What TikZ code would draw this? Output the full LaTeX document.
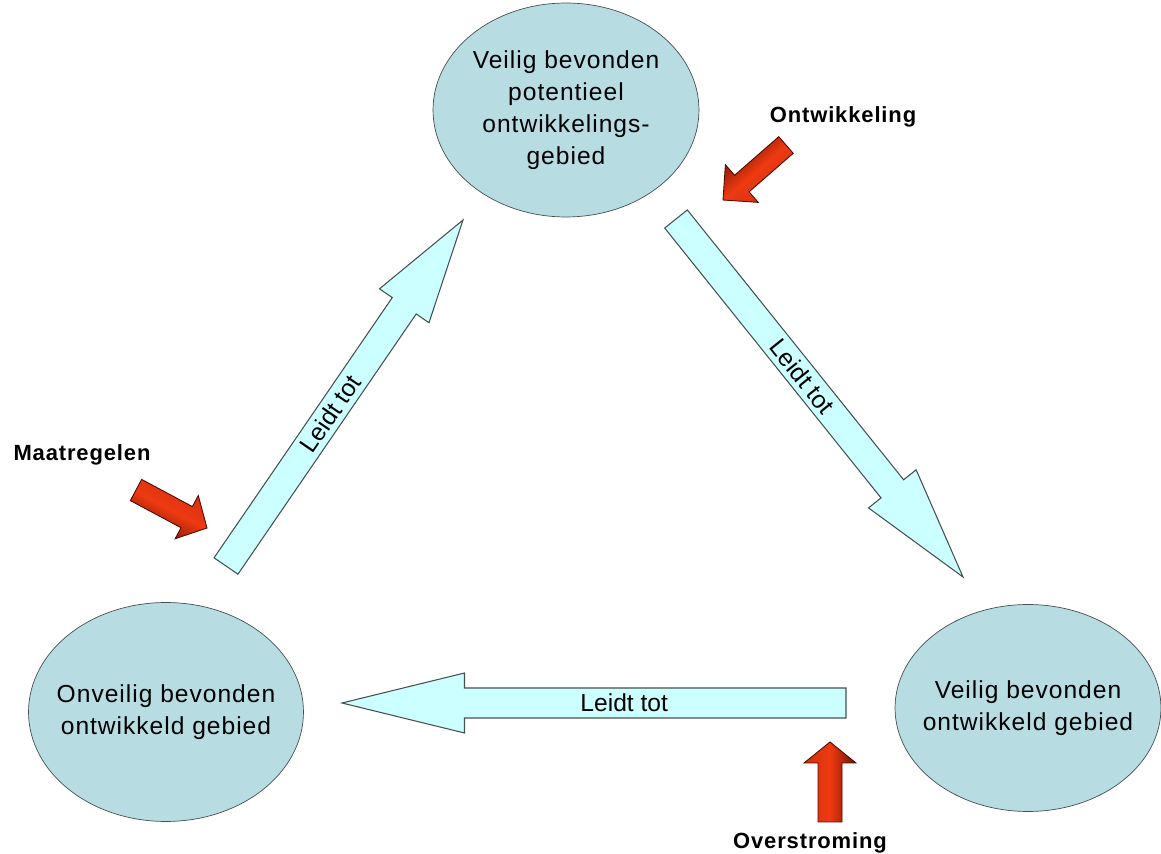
\documentclass[tikz,border=0pt]{standalone}
\usepackage{fontspec}
\setmainfont{Liberation Sans}
\newfontfamily\gebfont[LetterSpace=4]{Liberation Sans}
\usetikzlibrary{shapes.geometric,calc}

\definecolor{gebfill}{RGB}{183,221,226}
\definecolor{pijlfill}{RGB}{204,255,255}
\definecolor{rand}{RGB}{70,80,80}
\definecolor{rooddonker}{RGB}{115,15,0}
\definecolor{roodlicht}{RGB}{238,58,18}

% block arrow: style, tail, tip, shaft half width, head half width, head length
\newcommand{\blokpijl}[6]{%
  \coordinate (bp-h) at ($(#3)!#6!(#2)$);
  \draw[#1] ($(#2)!#4!90:(#3)$) -- ($(bp-h)!#4!90:(#3)$) -- ($(bp-h)!#5!90:(#3)$) -- (#3)
    -- ($(bp-h)!#5!-90:(#3)$) -- ($(bp-h)!#4!-90:(#3)$) -- ($(#2)!#4!-90:(#3)$) -- cycle;
}

\begin{document}
\begin{tikzpicture}[x=0.02cm, y=-0.02cm,
    geb/.style={ellipse, draw=rand, fill=gebfill, align=center, inner ysep=0pt, inner xsep=-0.3cm,
      font=\gebfont\fontsize{14}{18.2}\selectfont},
    kop/.style={font=\gebfont\bfseries\fontsize{12.5}{15}\selectfont},
    lbl/.style={font=\fontsize{14}{16}\selectfont, inner sep=1pt},
    blauw/.style={draw=rand, fill=pijlfill, line width=0.6pt},
    rood/.style={draw=rooddonker!70!black, line width=0.5pt,
      top color=roodlicht!75!rooddonker, bottom color=rooddonker, middle color=roodlicht}]
  \useasboundingbox (0,0) rectangle (1161,854);
  % areas
  \node[geb, minimum width=5.32cm, minimum height=4.28cm] (potgeb) at (566,110)
    {Veilig bevonden\\potentieel\\ontwikkelings-\\gebied};
  \node[geb, minimum width=5.5cm, minimum height=4.38cm] (onvgeb) at (166,712)
    {Onveilig bevonden\\ontwikkeld gebied};
  \node[geb, minimum width=5.32cm, minimum height=4.14cm] (veilgeb) at (1028,708)
    {Veilig bevonden\\ontwikkeld gebied};
  % cycle arrows
  \coordinate (l1s) at (226,566);  \coordinate (l1e) at (463,220);
  \coordinate (r1s) at (676,219);  \coordinate (r1e) at (963,577);
  \coordinate (h1s) at (846,703);  \coordinate (h1e) at (342,703);
  \blokpijl{blauw}{l1s}{l1e}{0.29cm}{0.6cm}{2.08cm}
  \blokpijl{blauw}{r1s}{r1e}{0.29cm}{0.61cm}{2.26cm}
  \blokpijl{blauw}{h1s}{h1e}{0.3cm}{0.6cm}{2.45cm}
  \path (l1s) -- (l1e) node[pos=0.44, sloped, lbl] (lt1) {Leidt tot};
  \path (r1s) -- (r1e) node[pos=0.44, sloped, lbl] (lt2) {Leidt tot};
  \path (h1s) -- (h1e) node[pos=0.44, sloped, lbl] (lt3) {Leidt tot};
  % influences
  \node[kop] (ontw) at (843,117) {Ontwikkeling};
  \node[kop] (maat) at (82,455) {Maatregelen};
  \node[kop] (overst) at (810,843) {Overstroming};
  \coordinate (ro-s) at (786,145);  \coordinate (ro-e) at (723,200);
  \coordinate (rm-s) at (136,490);  \coordinate (rm-e) at (207,528);
  \coordinate (rv-s) at (830,822);  \coordinate (rv-e) at (830,742);
  \blokpijl{rood, shading angle=221}{ro-s}{ro-e}{0.22cm}{0.5cm}{0.5cm}
  \blokpijl{rood, shading angle=-28}{rm-s}{rm-e}{0.24cm}{0.49cm}{0.46cm}
  \blokpijl{rood, shading angle=90}{rv-s}{rv-e}{0.24cm}{0.52cm}{0.42cm}
\end{tikzpicture}
\end{document}
